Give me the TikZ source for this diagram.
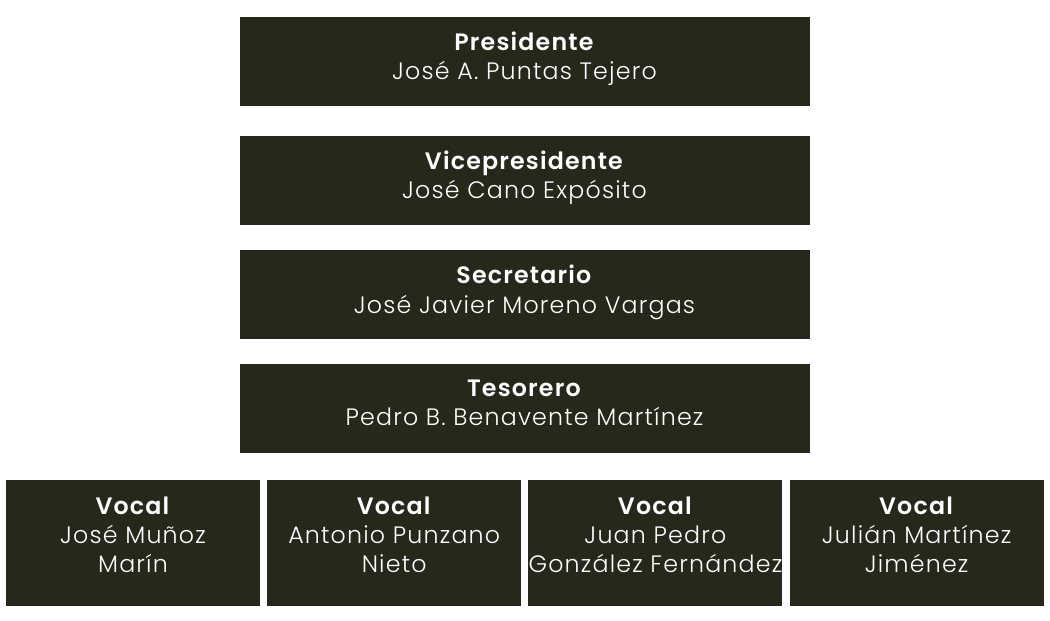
\documentclass[tikz,border=0pt]{standalone}
\usepackage{fontspec}
\setmainfont{Poppins}[UprightFont=* Light, BoldFont=* SemiBold, LetterSpace=5]
\usepackage{tikz}
\usetikzlibrary{positioning}
\definecolor{boxfill}{HTML}{26281C}

\begin{document}
\begin{tikzpicture}[node distance=0.58cm, every node/.style={text=white, font=\fontsize{13.5}{16.6}\selectfont, align=center, inner sep=0pt}, board/.style={fill=boxfill, minimum width=11.4cm, minimum height=1.78cm, text depth=0.23cm}, vocalbox/.style={fill=boxfill, minimum width=5.08cm, minimum height=2.52cm, text depth=0.33cm}]
	\useasboundingbox (0,0) rectangle (21,-12.42);
	\node[board] (pres) at (10.49,-1.23) {\textbf{Presidente}\\José A. Puntas Tejero};
	\node[board] (vice) [below=0.58cm of pres] {\textbf{Vicepresidente}\\José Cano Expósito};
	\node[board] (secr) [below=0.5cm of vice] {\textbf{Secretario}\\José Javier Moreno Vargas};
	\node[board] (teso) [below=0.48cm of secr] {\textbf{Tesorero}\\Pedro B. Benavente Martínez};
	\node[vocalbox] (vocal1) at (2.66,-10.86) {\textbf{Vocal}\\José Muñoz\\Marín};
	\node[vocalbox] (vocal2) [right=0.13cm of vocal1] {\textbf{Vocal}\\Antonio Punzano\\Nieto};
	\node[vocalbox] (vocal3) [right=0.13cm of vocal2] {\textbf{Vocal}\\Juan Pedro\\González Fernández};
	\node[vocalbox] (vocal4) [right=0.13cm of vocal3] {\textbf{Vocal}\\Julián Martínez\\Jiménez};
\end{tikzpicture}
\end{document}
